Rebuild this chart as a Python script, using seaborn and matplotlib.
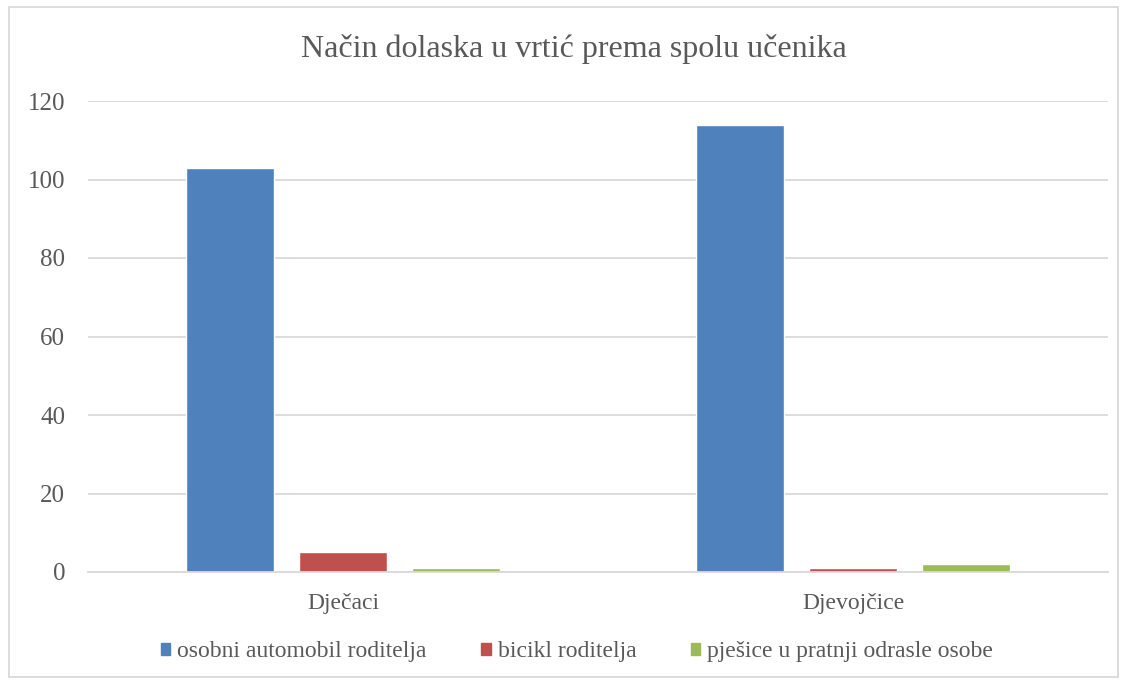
import matplotlib
matplotlib.use("Agg")
import matplotlib.pyplot as plt
import seaborn as sns
import pandas as pd
from matplotlib.patches import Rectangle

categories = ["Dječaci", "Djevojčice"]
series = ["osobni automobil roditelja", "bicikl roditelja", "pješice u pratnji odrasle osobe"]
values_car = [103, 114]
values_bike = [5, 1]
values_walk = [1, 2]
colors = ["#4F81BD", "#C0504D", "#9BBB59"]
yticks = [0, 20, 40, 60, 80, 100, 120]

rows = []
for s, vals in zip(series, [values_car, values_bike, values_walk]):
    for c, v in zip(categories, vals):
        rows.append({"kategorija": c, "serija": s, "vrijednost": v})
df = pd.DataFrame(rows)

sns.set_theme(style="white")
plt.rcParams["font.family"] = ["Liberation Serif", "DejaVu Serif"]

fig = plt.figure(figsize=(11.23, 6.81), dpi=100)
ax = fig.add_axes([88/1123, 1-572/681, (1108-88)/1123, (572-101)/681])

sns.barplot(data=df, x="kategorija", y="vrijednost", hue="serija",
            hue_order=series, order=categories, palette=colors,
            width=0.665, gap=0.221, saturation=1, ax=ax, legend=False,
            errorbar=None)

ax.set_xlim(-0.5, 1.5)
ax.set_ylim(0, 120)
ax.set_yticks(yticks)
ax.yaxis.grid(True, color="#D9D9D9", linewidth=1.3)
ax.set_axisbelow(True)
for side in ["top", "right", "left"]:
    ax.spines[side].set_visible(False)
ax.spines["bottom"].set_color("#D9D9D9")
ax.spines["bottom"].set_linewidth(1.3)
ax.tick_params(axis="both", length=0, colors="#595959")
ax.tick_params(axis="y", labelsize=18, pad=16.5)
ax.tick_params(axis="x", labelsize=17, pad=15)
ax.set_xlabel("")
ax.set_ylabel("")

fig.text(574/1123, 1-49/681, "Način dolaska u vrtić prema spolu učenika",
         ha="center", va="center", fontsize=23, color="#595959")

handles = [Rectangle((0, 0), 1, 1, color=c) for c in colors]
fig.legend(handles, series, loc="center", bbox_to_anchor=(577/1123, 1-652/681),
           ncol=3, frameon=False, fontsize=17, labelcolor="#595959",
           handlelength=0.4, handleheight=0.4, handletextpad=0.3,
           columnspacing=2.3)

fig.patches.append(Rectangle((9/1123, 4/681), (1118-9)/1123, (681-4-7)/681,
                             transform=fig.transFigure, fill=False,
                             edgecolor="#D9D9D9", linewidth=1.3))

fig.savefig("out.png", dpi=100)
